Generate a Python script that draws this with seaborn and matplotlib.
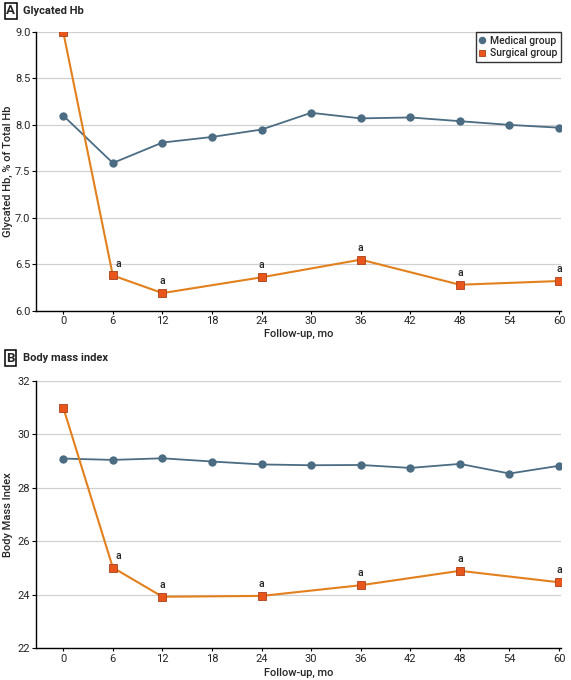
import numpy as np
import pandas as pd
import matplotlib
matplotlib.use("Agg")
import matplotlib.pyplot as plt
import seaborn as sns

# Follow-up months
months_med = [0, 6, 12, 18, 24, 30, 36, 42, 48, 54, 60]
months_surg = [0, 6, 12, 24, 36, 48, 60]

# Panel A: glycated Hb (% of total Hb)
hba1c_med = [8.10, 7.59, 7.81, 7.87, 7.95, 8.13, 8.07, 8.08, 8.04, 8.00, 7.97]
hba1c_surg = [9.00, 6.38, 6.19, 6.36, 6.55, 6.28, 6.32]

# Panel B: body mass index
bmi_med = [29.09, 29.04, 29.10, 28.98, 28.87, 28.84, 28.85, 28.74, 28.89, 28.53, 28.82]
bmi_surg = [31.00, 25.01, 23.92, 23.95, 24.35, 24.89, 24.46]

groups = ["Medical group", "Surgical group"]
med_color = "#4b6c82"
surg_color = "#e8561c"
surg_line = "#e3801e"

sns.set_theme(style="white")
plt.rcParams["font.family"] = ["Roboto", "DejaVu Sans"]

fig = plt.figure(figsize=(5.71, 6.8), dpi=100)
ax_a = fig.add_axes([0.063, 0.543, 0.919, 0.410])
ax_b = fig.add_axes([0.063, 0.047, 0.919, 0.393])


def draw_panel(ax, y_med, y_surg, ylim, yticks, yfmt, ylabel, letter, title, ytop, xlab_y):
    df_med = pd.DataFrame({"month": months_med, "value": y_med, "group": groups[0]})
    df_surg = pd.DataFrame({"month": months_surg, "value": y_surg, "group": groups[1]})
    sns.lineplot(data=df_med, x="month", y="value", ax=ax, color=med_color,
                 marker="o", markersize=6, markeredgewidth=0, linewidth=1.3,
                 label=groups[0], zorder=3)
    sns.lineplot(data=df_surg, x="month", y="value", ax=ax, color=surg_line,
                 marker="s", markersize=5.5, markerfacecolor=surg_color,
                 markeredgecolor="#a8401a", markeredgewidth=0.6, linewidth=1.5,
                 label=groups[1], zorder=4)
    for m, v in zip(months_surg[1:], y_surg[1:]):
        dx = 4 if m == 6 else 0
        ax.annotate("a", (m, v), xytext=(dx, 5), textcoords="offset points",
                    ha="center", va="bottom", fontsize=7.5, fontweight="medium")
    ax.set_xlim(-3.3, 60.2)
    ax.set_ylim(*ylim)
    ax.set_xticks(range(0, 61, 6))
    ax.set_yticks(yticks)
    ax.set_yticklabels([yfmt.format(t) for t in yticks])
    ax.yaxis.grid(True, color="#d0d0d0", linewidth=0.9)
    ax.xaxis.grid(False)
    for s in ["top", "right"]:
        ax.spines[s].set_visible(False)
    for s in ["left", "bottom"]:
        ax.spines[s].set_color("black")
        ax.spines[s].set_linewidth(1.0)
    ax.tick_params(axis="y", which="both", left=True, length=3, width=0.8,
                   labelsize=8, pad=1, color="black")
    ax.tick_params(axis="x", bottom=True, length=2, width=0.8, labelsize=8,
                   pad=2, color="black")
    ax.set_xlabel("Follow-up, mo", fontsize=8, fontweight="medium")
    ax.xaxis.set_label_coords(0.5, xlab_y)
    ax.set_ylabel(ylabel, fontsize=8, fontweight="medium")
    ax.yaxis.set_label_coords(-0.043, 0.5)
    fig.text(0.011, ytop, letter, fontsize=9.5, fontweight="bold", va="center",
             ha="left", bbox=dict(boxstyle="square,pad=0.12", fc="white", ec="black", lw=1.1))
    fig.text(0.041, ytop, title, fontsize=8, fontweight="bold", va="center", ha="left")


draw_panel(ax_a, hba1c_med, hba1c_surg, (6.0, 9.0), np.arange(6.0, 9.01, 0.5),
           "{:.1f}", "Glycated Hb, % of Total Hb", "A", "Glycated Hb", 0.984, -0.065)
draw_panel(ax_b, bmi_med, bmi_surg, (22, 32), list(range(22, 33, 2)),
           "{:d}", "Body Mass Index", "B", "Body mass index", 0.473, -0.076)

leg = ax_a.legend(loc="upper right", bbox_to_anchor=(1.0, 1.0), frameon=True,
                  prop={"size": 7.5, "weight": "medium"}, handlelength=0.6,
                  handletextpad=0.4, borderpad=0.35, labelspacing=0.25,
                  borderaxespad=0, fancybox=False, markerscale=0.9)
for h in leg.legend_handles:
    h.set_linestyle("")
leg.get_frame().set_edgecolor("black")
leg.get_frame().set_linewidth(1.0)
ax_b.get_legend().remove()

fig.savefig("out.png", dpi=100)
